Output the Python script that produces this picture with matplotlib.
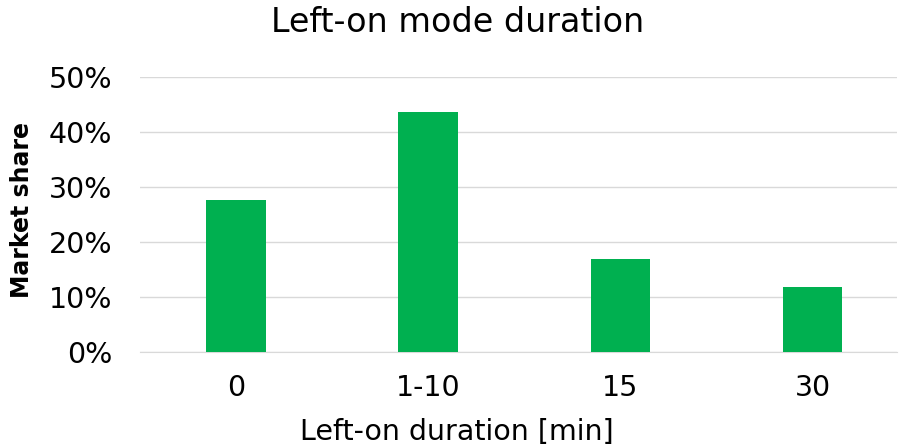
import matplotlib
matplotlib.use("Agg")
import matplotlib.pyplot as plt
from matplotlib.ticker import FuncFormatter

categories = ["0", "1-10", "15", "30"]
shares = [27.6, 43.6, 16.9, 11.8]
yticks = [0, 10, 20, 30, 40, 50]

plt.rcParams['font.family'] = ['DejaVu Sans']

fig = plt.figure(figsize=(8.99, 4.48), dpi=100)
ax = fig.add_axes([140/899, 1 - 352/448, 757/899, 275/448])

x = range(len(categories))
ax.bar(x, shares, width=0.31, color="#00B050", zorder=3)

ax.set_xlim(-0.5, 3.44)
ax.set_ylim(0, 50)
ax.set_yticks(yticks)
ax.yaxis.set_major_formatter(FuncFormatter(lambda v, p: "%d%%" % v))
ax.set_xticks(list(x))
ax.set_xticklabels(categories)
ax.grid(axis="y", color="#D9D9D9", linewidth=1, zorder=0)
ax.tick_params(axis="both", length=0, labelsize=20.5, colors="black")
ax.tick_params(axis="x", pad=16)
ax.tick_params(axis="y", pad=20)
for s in ["top", "right", "left"]:
    ax.spines[s].set_visible(False)
ax.spines["bottom"].set_color("#D9D9D9")

fig.text(458/899, 1 - 22/448, "Left-on mode duration", ha="center", va="center", fontsize=24)
fig.text(457/899, 1 - 432/448, "Left-on duration [min]", ha="center", va="center", fontsize=20.5)
fig.text(22/899, 1 - 210/448, "Market share", ha="center", va="center", rotation=90,
         fontsize=17, fontweight="bold")

fig.savefig("out.png", dpi=100)
